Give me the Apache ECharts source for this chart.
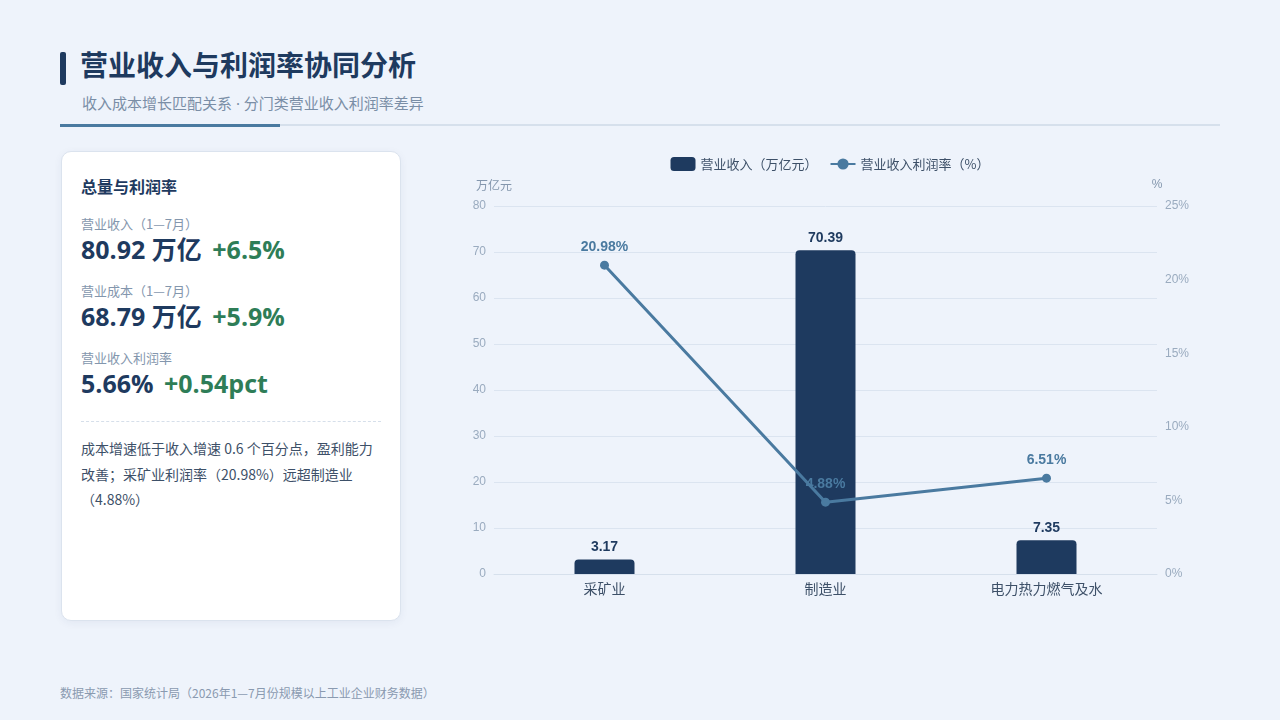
<!DOCTYPE html>
<html>
<head>
<meta charset="utf-8">
<script src="https://cdn.jsdelivr.net/npm/echarts@6/dist/echarts.min.js"></script>
<style>
  html, body { margin: 0; padding: 0; }
  body { width: 1280px; height: 720px; background: #eef3fb; position: relative; overflow: hidden;
         font-family: "Noto Sans CJK SC", "Noto Sans", sans-serif; }
  .tbar { position: absolute; left: 60px; top: 52px; width: 6px; height: 33px; background: #1e3a5f; border-radius: 2px; }
  .title { position: absolute; left: 80px; top: 44px; font-size: 28px; font-weight: 700; color: #1e3a5f; line-height: 40px; }
  .sub { position: absolute; left: 82px; top: 92px; font-size: 15px; color: #7a8ea6; line-height: 22px;
         font-family: "Noto Sans", "Noto Sans CJK SC", sans-serif; }
  .rule { position: absolute; left: 60px; top: 124px; width: 1160px; height: 2px; background: #d6e0ec; }
  .rule2 { position: absolute; left: 60px; top: 124px; width: 220px; height: 3px; background: #4a7aa0; }
  .card { position: absolute; left: 61px; top: 151px; width: 338px; height: 468px; background: #fff;
          border: 1px solid #dbe3ee; border-radius: 10px; box-shadow: 0 2px 8px rgba(30,58,95,0.06); }
  .ch { position: absolute; left: 19px; top: 22px; font-size: 16px; font-weight: 700; color: #1e3a5f; line-height: 24px; }
  .lab { position: absolute; left: 19px; font-size: 13px; color: #8396ad; line-height: 18px; }
  .val { position: absolute; left: 19px; font-size: 25px; font-weight: 700; color: #1e3a5f; line-height: 32px; white-space: nowrap;
         font-family: "Open Sans", "Noto Sans CJK SC", sans-serif; }
  .val .g { color: #2e7d57; margin-left: 4px; }
  .dash { position: absolute; left: 19px; top: 269px; width: 300px; border-top: 1px dashed #d6dfea; }
  .para { position: absolute; left: 19px; top: 284px; width: 305px; font-size: 14px; color: #3d5068; line-height: 25.5px; }
  .foot { position: absolute; left: 60px; top: 684px; font-size: 12px; color: #8a9ab0; line-height: 18px; }
  #chart { position: absolute; left: 420px; top: 140px; width: 820px; height: 480px; }
</style>
</head>
<body>
<div class="tbar"></div>
<div class="title">营业收入与利润率协同分析</div>
<div class="sub">收入成本增长匹配关系 · 分门类营业收入利润率差异</div>
<div class="rule"></div>
<div class="rule2"></div>

<div class="card">
  <div class="ch">总量与利润率</div>
  <div class="lab" style="top:63px">营业收入（1—7月）</div>
  <div class="val" style="top:81px">80.92 万亿 <span class="g">+6.5%</span></div>
  <div class="lab" style="top:130px">营业成本（1—7月）</div>
  <div class="val" style="top:148px">68.79 万亿 <span class="g">+5.9%</span></div>
  <div class="lab" style="top:197px">营业收入利润率</div>
  <div class="val" style="top:215px">5.66% <span class="g">+0.54pct</span></div>
  <div class="dash"></div>
  <div class="para">成本增速低于收入增速 0.6 个百分点，盈利能力改善；采矿业利润率（20.98%）远超制造业（4.88%）</div>
</div>

<div class="foot">数据来源：国家统计局（2026年1—7月份规模以上工业企业财务数据）</div>

<div id="chart"></div>

<script>
const categories = ['采矿业', '制造业', '电力热力燃气及水'];
const revenue = [3.17, 70.39, 7.35];
const profitRate = [20.98, 4.88, 6.51];
const seriesNames = ['营业收入（万亿元）', '营业收入利润率（%）'];

const chart = echarts.init(document.getElementById('chart'));
const font = '"Liberation Sans", "Noto Sans CJK SC", sans-serif';
const cjk = '"Noto Sans CJK SC", sans-serif';
chart.setOption({
  animation: false,
  textStyle: { fontFamily: font },
  legend: {
    top: 12, left: 'center',
    itemWidth: 25, itemHeight: 14, itemGap: 12,
    textStyle: { fontSize: 13, color: '#3d5068', fontFamily: cjk },
    data: [
      { name: seriesNames[0], icon: 'roundRect' },
      { name: seriesNames[1] }
    ]
  },
  grid: { left: 74, right: 83, top: 66, bottom: 46, containLabel: false },
  xAxis: {
    type: 'category', data: categories,
    axisLine: { show: true, lineStyle: { color: '#d6e0ec' } },
    axisTick: { show: false },
    axisLabel: { fontSize: 14, color: '#3d5068', margin: 8, fontFamily: cjk }
  },
  yAxis: [
    {
      type: 'value', name: '万亿元', min: 0, max: 80, interval: 10,
      nameGap: 15,
      nameTextStyle: { color: '#8396ad', fontSize: 12, fontFamily: cjk },
      axisLine: { show: false }, axisTick: { show: false },
      axisLabel: { color: '#9aabbf', fontSize: 12, margin: 8, fontFamily: font },
      splitLine: { lineStyle: { color: '#dbe4f0' } }
    },
    {
      type: 'value', name: '%', min: 0, max: 25, interval: 5,
      nameGap: 15,
      nameTextStyle: { color: '#8396ad', fontSize: 12, fontFamily: font },
      axisLine: { show: false }, axisTick: { show: false },
      axisLabel: { color: '#9aabbf', fontSize: 12, margin: 8, formatter: '{value}%', fontFamily: font },
      splitLine: { show: false }
    }
  ],
  series: [
    {
      name: seriesNames[0], type: 'bar', data: revenue, yAxisIndex: 0,
      barWidth: 60,
      itemStyle: { color: '#1e3a5f', borderRadius: [4, 4, 0, 0] },
      label: { show: true, position: 'top', distance: 5, color: '#1e3a5f', fontSize: 14, fontWeight: 'bold',
               fontFamily: font, formatter: p => p.value.toFixed(2) }
    },
    {
      name: seriesNames[1], type: 'line', data: profitRate, yAxisIndex: 1,
      symbol: 'circle', symbolSize: 9,
      lineStyle: { color: '#4a7aa0', width: 3 },
      itemStyle: { color: '#4a7aa0' },
      label: { show: true, position: 'top', distance: 7, color: '#4a7aa0', fontSize: 14, fontWeight: 'bold',
               fontFamily: font, formatter: p => p.value.toFixed(2) + '%' },
      z: 5
    }
  ]
});
</script>
</body>
</html>
